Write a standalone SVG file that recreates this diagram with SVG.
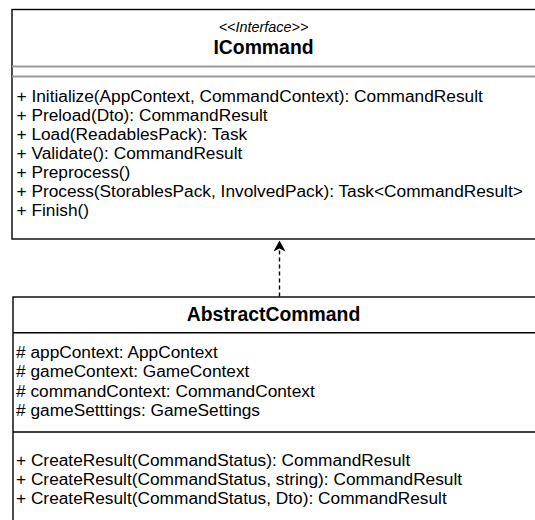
<svg xmlns="http://www.w3.org/2000/svg" width="535" height="520" viewBox="0 0 535 520">
  <style>
    .box { fill: #ffffff; stroke: #000000; stroke-width: 1.4; }
    .sep { stroke: #000000; stroke-width: 1.4; fill: none; }
    .sep-light { stroke: #9a9a9a; stroke-width: 2; fill: none; }
    .item { font-family: "Liberation Sans", Arial, sans-serif; font-size: 17.3px; fill: #000000; }
    .title { font-family: "Liberation Sans", Arial, sans-serif; font-size: 19.4px; font-weight: bold; fill: #000000; text-anchor: middle; }
    .stereo { font-family: "Liberation Sans", Arial, sans-serif; font-size: 14.4px; font-style: italic; fill: #000000; text-anchor: middle; }
    .dep { stroke: #000000; stroke-width: 1.4; stroke-dasharray: 4 3; fill: none; }
  </style>
  <defs>
    <marker id="classic" viewBox="0 0 12 12" refX="11" refY="6" markerWidth="12" markerHeight="12" markerUnits="userSpaceOnUse" orient="auto">
      <path d="M0,0 L11,6 L0,12 L3,6 Z" fill="#000000"/>
    </marker>
  </defs>
  <rect width="535" height="520" fill="#ffffff"/>

  <g id="ICommand">
    <rect class="box" x="12" y="9.5" width="540" height="229.5"/>
    <text class="stereo" x="263.5" y="31.5">&lt;&lt;Interface&gt;&gt;</text>
    <text class="title" x="263.5" y="54">ICommand</text>
    <line class="sep-light" x1="12" y1="66.5" x2="540" y2="66.5"/>
    <line class="sep-light" x1="12" y1="76.5" x2="540" y2="76.5"/>
    <text class="item" x="16.5" y="102">+ Initialize(AppContext, CommandContext): CommandResult</text>
    <text class="item" x="16.5" y="121">+ Preload(Dto): CommandResult</text>
    <text class="item" x="16.5" y="140">+ Load(ReadablesPack): Task</text>
    <text class="item" x="16.5" y="159">+ Validate(): CommandResult</text>
    <text class="item" x="16.5" y="178">+ Preprocess()</text>
    <text class="item" x="16.5" y="197">+ Process(StorablesPack, InvolvedPack): Task&lt;CommandResult&gt;</text>
    <text class="item" x="16.5" y="216">+ Finish()</text>
  </g>

  <g id="AbstractCommand">
    <rect class="box" x="13" y="297" width="540" height="240"/>
    <text class="title" x="273.5" y="321">AbstractCommand</text>
    <line class="sep" x1="13" y1="332.7" x2="540" y2="332.7"/>
    <text class="item" x="16" y="358">#&#160;appContext: AppContext</text>
    <text class="item" x="16" y="377">#&#160;gameContext: GameContext</text>
    <text class="item" x="16" y="396.5">#&#160;commandContext: CommandContext</text>
    <text class="item" x="16" y="416">#&#160;gameSetttings: GameSettings</text>
    <line class="sep" x1="13" y1="432" x2="540" y2="432"/>
    <text class="item" x="16" y="466">+ CreateResult(CommandStatus): CommandResult</text>
    <text class="item" x="16" y="485">+ CreateResult(CommandStatus, string): CommandResult</text>
    <text class="item" x="16" y="504">+ CreateResult(CommandStatus, Dto): CommandResult</text>
  </g>

  <g id="connectors">
    <line class="dep" x1="279.5" y1="296.5" x2="279.5" y2="240.5" marker-end="url(#classic)"/>
  </g>
</svg>
